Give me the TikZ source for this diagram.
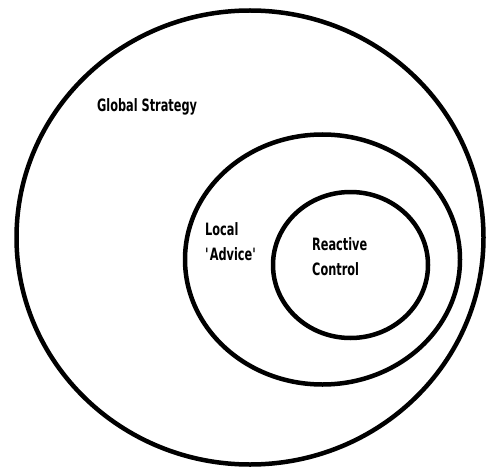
\documentclass[tikz,border=0pt]{standalone}
\usepackage{fontspec}
\newfontfamily\lblfont[FakeStretch=0.74]{DejaVu Sans Condensed Bold}
\begin{document}
\begin{tikzpicture}[x=1pt,y=-1pt,
  ring/.style={draw=black,line width=4.5pt},
  lbl/.style={font=\lblfont\fontsize{17}{25}\selectfont,inner sep=0pt,anchor=base west,align=left}]
\useasboundingbox (0,0) rectangle (487,468);
\draw[ring] (250,237.5) ellipse [x radius=233.5, y radius=227];
\draw[ring] (322.5,259.5) ellipse [x radius=137.5, y radius=125];
\draw[ring] (350.5,265) ellipse [x radius=77.5, y radius=73];
\node[lbl] (global) at (97,112) {Global Strategy};
\node[lbl] (local) at (205,260) {Local\\\textquotesingle Advice\textquotesingle};
\node[lbl] (reactive) at (312,275) {Reactive\\Control};
\end{tikzpicture}
\end{document}
